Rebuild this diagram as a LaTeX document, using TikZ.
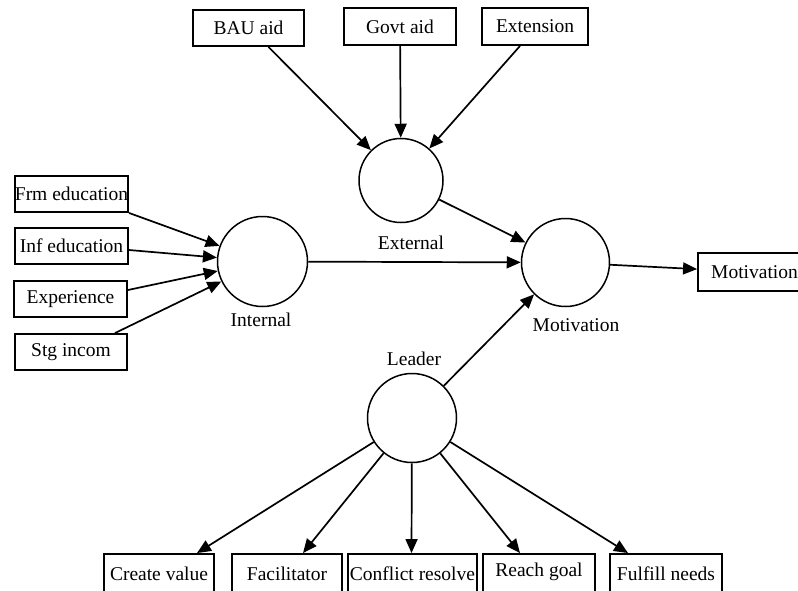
\documentclass[tikz,border=0pt]{standalone}
\usepackage{fontspec}
\setmainfont{Liberation Serif}
\usetikzlibrary{arrows.meta}
\begin{document}
\begin{tikzpicture}[x=1pt,y=-1pt,
  box/.style={draw,line width=1.9pt,inner sep=0pt,fill=white,font=\fontsize{19.5}{22}\selectfont},
  circ/.style={draw,circle,line width=1.5pt,inner sep=0pt},
  lbl/.style={font=\fontsize{19.5}{22}\selectfont,inner sep=0pt},
  arr/.style={line width=1.7pt,-{Triangle[length=14pt,width=12pt]}}]
\useasboundingbox (0,0) rectangle (798,590);
\fill[white] (0,0) rectangle (798,590);
% top boxes
\node[box,minimum width=111pt,minimum height=36pt] (bau) at (248.5,28) {BAU aid};
\node[box,minimum width=112pt,minimum height=37pt] (govt) at (400,26.5) {Govt aid};
\node[box,minimum width=106pt,minimum height=37pt] (exten) at (535,26.5) {Extension};
% left boxes
\node[box,minimum width=113pt,minimum height=36pt] (frm) at (71.5,194) {Frm education};
\node[box,minimum width=113pt,minimum height=36pt] (inf) at (71.5,246) {Inf education};
\node[box,minimum width=113pt,minimum height=36pt] (exper) at (70.5,299) {Experience};
\node[box,minimum width=112pt,minimum height=36pt] (stg) at (71,352) {Stg incom};
% circles
\node[circ,minimum size=90pt] (int) at (262.5,261.5) {};
\node[circ,minimum size=84pt] (ext) at (401,180.5) {};
\node[circ,minimum size=88pt] (mot) at (565.5,262.5) {};
\node[circ,minimum size=89pt] (lead) at (412,418) {};
% circle labels
\node[lbl] (lint) at (261,320) {Internal};
\node[lbl] (lext) at (411,243) {External};
\node[lbl] (lmot) at (576,325) {Motivation};
\node[lbl] (llead) at (414,359) {Leader};
% output box
\node[box,minimum width=113pt,minimum height=38pt] (mbox) at (754.5,272) {Motivation};
% bottom boxes
\node[box,minimum width=110pt,minimum height=40pt] (cv) at (159,574) {Create value};
\node[box,minimum width=110pt,minimum height=40pt] (fac) at (287,574) {Facilitator};
\node[box,minimum width=129pt,minimum height=40pt] (conf) at (412.5,574) {Conflict resolve};
\node[box,minimum width=112pt,minimum height=40pt,text depth=8pt] (reach) at (539,574) {Reach goal};
\node[box,minimum width=112pt,minimum height=40pt] (ful) at (666,574) {Fulfill needs};
% arrows into External
\draw[arr] ([xshift=20pt]bau.south) -- (ext);
\draw[arr] (govt) -- (ext);
\draw[arr] ([xshift=-15pt]exten.south) -- (ext);
% arrows into Internal
\draw[arr] (frm.south east) -- (int);
\draw[arr] ([yshift=-4pt]inf.east) -- (int);
\draw[arr] ([yshift=9pt]exper.east) -- (int);
\draw[arr] ([xshift=44pt]stg.north) -- (int);
% into Motivation
\draw[arr] (int) -- (mot);
\draw[arr] (ext) -- (mot);
\draw[arr] (lead) -- (mot);
\draw[arr] (mot) -- (mbox);
% Leader outputs
\draw[arr] (lead) -- ([xshift=38pt]cv.north);
\draw[arr] (lead) -- ([xshift=16pt]fac.north);
\draw[arr] (lead) -- ([xshift=-1pt]conf.north);
\draw[arr] (lead) -- ([xshift=-19pt]reach.north);
\draw[arr] (lead) -- ([xshift=-38pt]ful.north);
\end{tikzpicture}
\end{document}
